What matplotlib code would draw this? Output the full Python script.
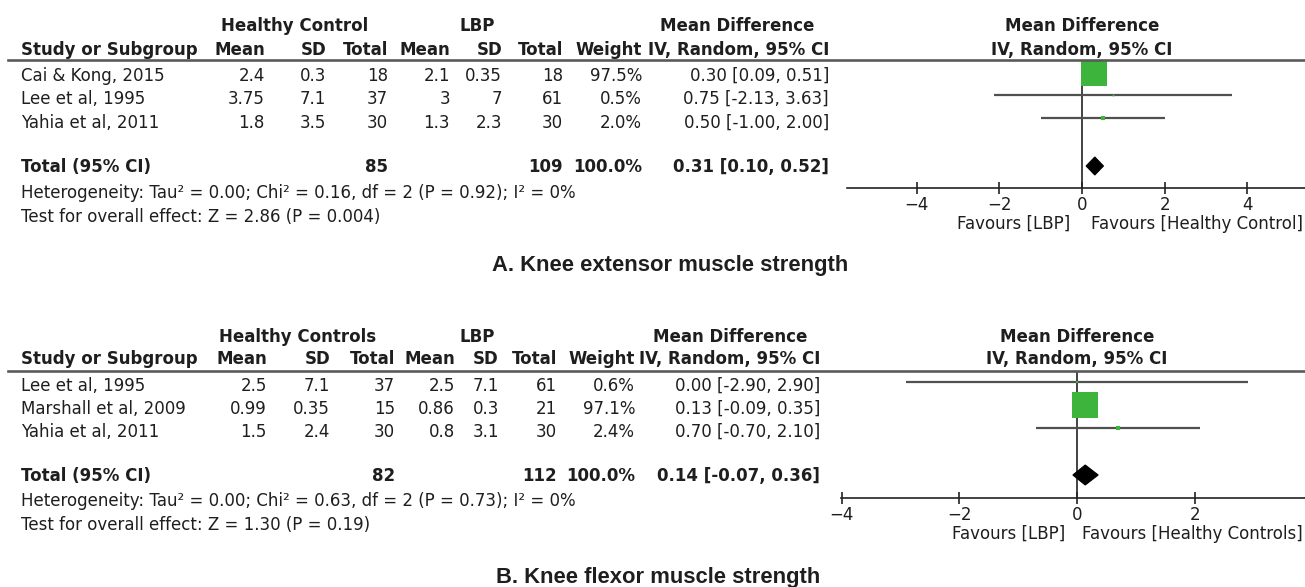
import matplotlib
matplotlib.use("Agg")
import matplotlib.pyplot as plt
from matplotlib.lines import Line2D
from matplotlib.patches import Polygon
import numpy as np

W, H = 1305, 587
plt.rcParams['font.family'] = ['DejaVu Sans']

# ---------------- Panel A data ----------------
a_studies = ["Cai & Kong, 2015", "Lee et al, 1995", "Yahia et al, 2011"]
a_hc_mean = [2.4, 3.75, 1.8]
a_hc_sd = [0.3, 7.1, 3.5]
a_hc_n = [18, 37, 30]
a_lbp_mean = [2.1, 3, 1.3]
a_lbp_sd = [0.35, 7, 2.3]
a_lbp_n = [18, 61, 30]
a_weight = [97.5, 0.5, 2.0]
a_md = [0.30, 0.75, 0.50]
a_lo = [0.09, -2.13, -1.00]
a_hi = [0.51, 3.63, 2.00]
a_total = [0.31, 0.10, 0.52]
a_total_n = [85, 109]
a_total_w = 100.0
a_group = "Healthy Control"
a_het = "Heterogeneity: Tau² = 0.00; Chi² = 0.16, df = 2 (P = 0.92); I² = 0%"
a_test = "Test for overall effect: Z = 2.86 (P = 0.004)"
a_caption = "A. Knee extensor muscle strength"
a_ticks = [-4, -2, 0, 2, 4]

# ---------------- Panel B data ----------------
b_studies = ["Lee et al, 1995", "Marshall et al, 2009", "Yahia et al, 2011"]
b_hc_mean = [2.5, 0.99, 1.5]
b_hc_sd = [7.1, 0.35, 2.4]
b_hc_n = [37, 15, 30]
b_lbp_mean = [2.5, 0.86, 0.8]
b_lbp_sd = [7.1, 0.3, 3.1]
b_lbp_n = [61, 21, 30]
b_weight = [0.6, 97.1, 2.4]
b_md = [0.00, 0.13, 0.70]
b_lo = [-2.90, -0.09, -0.70]
b_hi = [2.90, 0.35, 2.10]
b_total = [0.14, -0.07, 0.36]
b_total_n = [82, 112]
b_total_w = 100.0
b_group = "Healthy Controls"
b_het = "Heterogeneity: Tau² = 0.00; Chi² = 0.63, df = 2 (P = 0.73); I² = 0%"
b_test = "Test for overall effect: Z = 1.30 (P = 0.19)"
b_caption = "B. Knee flexor muscle strength"
b_ticks = [-4, -2, 0, 2]

TXT = '#1e1e1e'
GREEN = '#3db53d'
FS = 12

fig = plt.figure(figsize=(W / 100, H / 100), dpi=100)


def T(x, y, s, ha='left', weight='normal', size=FS, family=None, **kw):
    # y given as pixel row of visual text centre; convert to baseline
    base = y + size * 100 / 72 * 0.36
    kws = dict(ha=ha, va='baseline', fontsize=size, fontweight=weight, color=TXT)
    if family:
        kws['family'] = family
    kws.update(kw)
    fig.text(x / W, 1 - base / H, s, **kws)


def fmt(v):
    return f"{v:g}"


def ci(m, l, h):
    return f"{m:.2f} [{l:.2f}, {h:.2f}]"


def panel(studies, hcm, hcsd, hcn, lm, lsd, ln, wt, md, lo, hi, tot, totn, totw,
          group, het, test, caption, ticks, L):
    cols = L['cols']
    # group headers
    T(L['gc'][0], L['yg'], group, ha='center', weight='bold')
    T(L['gc'][1], L['yg'], "LBP", ha='center', weight='bold')
    T(L['gc'][2], L['yg'], "Mean Difference", ha='center', weight='bold')
    heads = ["Mean", "SD", "Total", "Mean", "SD", "Total", "Weight", "IV, Random, 95% CI"]
    T(21, L['yh'], "Study or Subgroup", weight='bold')
    for c, h in zip(cols, heads):
        T(c, L['yh'], h, ha='right', weight='bold')
    # forest header
    T(L['x0'], L['yg'], "Mean Difference", ha='center', weight='bold')
    T(L['x0'], L['yh'], "IV, Random, 95% CI", ha='center', weight='bold')
    # rule
    fig.add_artist(Line2D([8 / W, 1.0], [1 - L['yl'] / H] * 2, transform=fig.transFigure,
                          color='#5a5a5a', lw=1.9))
    # rows
    for i, y in enumerate(L['rows']):
        T(21, y, studies[i])
        vals = [fmt(hcm[i]), fmt(hcsd[i]), str(hcn[i]), fmt(lm[i]), fmt(lsd[i]),
                str(ln[i]), f"{wt[i]:.1f}%", ci(md[i], lo[i], hi[i])]
        for c, v in zip(cols, vals):
            T(c, y, v, ha='right')
    # total
    T(21, L['yt'], "Total (95% CI)", weight='bold')
    T(cols[2], L['yt'], str(totn[0]), ha='right', weight='bold')
    T(cols[5], L['yt'], str(totn[1]), ha='right', weight='bold')
    T(cols[6], L['yt'], f"{totw:.1f}%", ha='right', weight='bold')
    T(cols[7], L['yt'], ci(*tot), ha='right', weight='bold')
    T(21, L['yhet'], het)
    T(21, L['ytest'], test)
    T(L['capx'], L['capy'], caption, ha='center', weight='bold', size=15.8,
      family=['Liberation Sans', 'DejaVu Sans'])

    # forest axes
    xl, xr, x0, sc = L['xl'], L['xr'], L['x0'], L['scale']
    ya, yl = L['ya'], L['yl']
    ax = fig.add_axes([xl / W, 1 - ya / H, (xr - xl) / W, (ya - yl) / H])
    ax.set_xlim((xl - x0) / sc, (xr - x0) / sc)
    ax.set_ylim(ya, yl)
    ax.patch.set_alpha(0)
    for s in ['top', 'left', 'right']:
        ax.spines[s].set_visible(False)
    ax.spines['bottom'].set_color('#222222')
    ax.spines['bottom'].set_linewidth(1.2)
    ax.set_yticks([])
    ax.set_xticks(ticks)
    ax.set_xticklabels([f"{t:d}".replace('-', '\u2212') for t in ticks])
    ax.tick_params(axis='x', direction='inout', length=9, width=1.2, color='#222222',
                   labelsize=FS, pad=1, labelcolor=TXT)
    ax.axvline(0, color='#222222', lw=1.2, zorder=1)
    rows = L['rows_f']
    ax.hlines(rows, lo, hi, color='#505050', lw=1.6, zorder=2)
    for y, m, w in zip(rows, md, wt):
        side_px = 26.3 * np.sqrt(w / 100.0)
        ax.plot([m], [y], marker='s', ms=side_px * 0.72, color=GREEN, mec=GREEN, mew=0,
                zorder=3, clip_on=False)
    m, l, h = tot
    hd = L['dh']
    ax.add_patch(Polygon([(l, L['yt']), (m, L['yt'] - hd), (h, L['yt']), (m, L['yt'] + hd)],
                         closed=True, facecolor='black', edgecolor='black', lw=0.8, zorder=4))
    # favours
    T(x0 - 12, ya + 35, "Favours [LBP]", ha='right')
    T(x0 + L['fgap'], ya + 35, "Favours [" + group + "]", ha='left')


LA = dict(cols=[265, 326, 388, 450, 502, 563, 642, 829], gc=[295, 477, 737],
          yg=25, yh=49, yl=60, rows=[75, 98, 122], rows_f=[73, 95, 118], yt=166, yhet=192,
          ytest=216, capx=670, capy=263, xl=847, xr=1305, x0=1082, scale=41.3, ya=188, dh=9,
          fgap=9)
LB = dict(cols=[267, 330, 395, 455, 499, 557, 635, 820], gc=[298, 477, 730],
          yg=336, yh=358, yl=371, rows=[385, 408, 431], rows_f=[382, 405, 428], yt=475, yhet=500,
          ytest=524, capx=658, capy=575, xl=841, xr=1305, x0=1077, scale=58.8, ya=498, dh=10,
          fgap=5)

panel(a_studies, a_hc_mean, a_hc_sd, a_hc_n, a_lbp_mean, a_lbp_sd, a_lbp_n, a_weight,
      a_md, a_lo, a_hi, a_total, a_total_n, a_total_w, a_group, a_het, a_test, a_caption,
      a_ticks, LA)
panel(b_studies, b_hc_mean, b_hc_sd, b_hc_n, b_lbp_mean, b_lbp_sd, b_lbp_n, b_weight,
      b_md, b_lo, b_hi, b_total, b_total_n, b_total_w, b_group, b_het, b_test, b_caption,
      b_ticks, LB)

fig.savefig("out.png", dpi=100, facecolor='white')
